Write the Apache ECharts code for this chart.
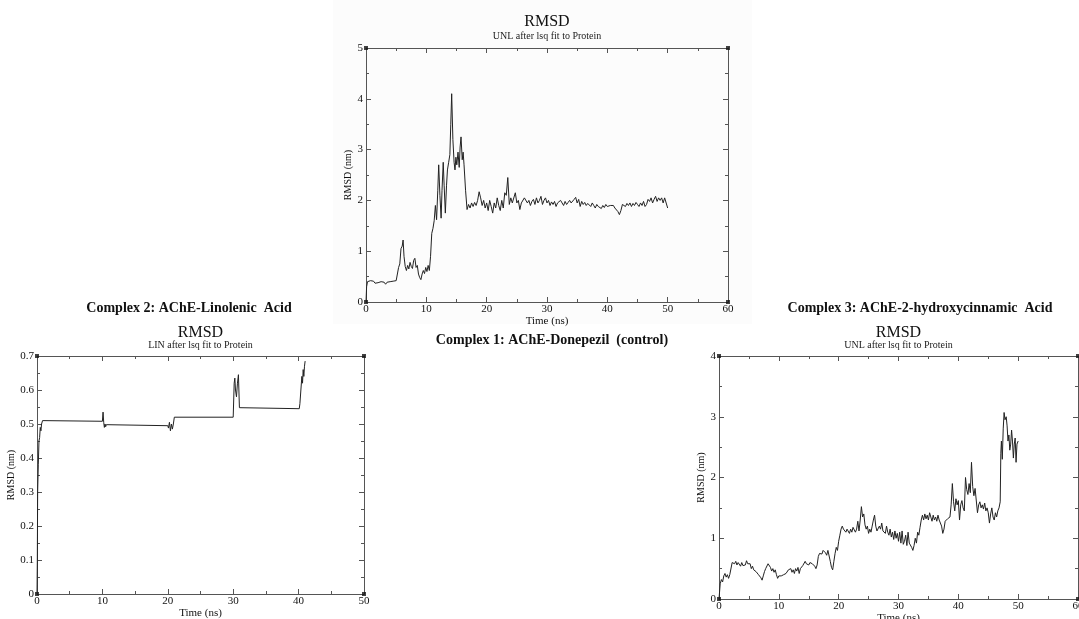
<!DOCTYPE html>
<html>
<head>
<meta charset="utf-8">
<script src="https://cdn.jsdelivr.net/npm/echarts@6/dist/echarts.min.js"></script>
<style>html,body{margin:0;padding:0;background:#fff;}#c{width:1079px;height:619px;}</style>
</head>
<body>
<div id="c"></div>
<script>
// ---- Data (time ns, RMSD nm) ----
const complex1 = [[0,0],[0.1,0.3],[0.25,0.4],[0.5,0.38],[0.75,0.42],[1.0,0.39],[1.25,0.41],[1.5,0.37],[1.75,0.4],[2.0,0.38],[2.25,0.36],[2.5,0.4],[2.75,0.37],[3.0,0.39],[3.25,0.35],[3.5,0.39],[3.75,0.37],[4.0,0.4],[4.25,0.38],[4.5,0.41],[4.75,0.39],[5.0,0.42],[5.25,0.4],[5.4,0.68],[5.6,0.75],[5.8,1.05],[6.0,1.1],[6.15,1.22],[6.3,0.9],[6.5,0.7],[6.7,0.62],[6.9,0.72],[7.1,0.65],[7.3,0.78],[7.5,0.7],[7.7,0.66],[7.9,0.82],[8.1,0.86],[8.3,0.68],[8.5,0.72],[8.7,0.55],[8.9,0.48],[9.1,0.44],[9.3,0.55],[9.5,0.62],[9.7,0.56],[9.9,0.68],[10.1,0.6],[10.3,0.72],[10.5,0.62],[10.7,0.9],[10.9,1.35],[11.1,1.45],[11.3,1.6],[11.5,1.9],[11.7,1.62],[11.9,2.2],[12.05,2.7],[12.25,2.1],[12.45,1.65],[12.6,2.2],[12.8,2.75],[12.95,2.3],[13.15,1.75],[13.35,2.3],[13.5,2.6],[13.7,2.75],[13.9,2.9],[14.05,3.5],[14.2,4.1],[14.4,3.2],[14.6,2.75],[14.75,2.6],[14.9,2.85],[15.05,2.7],[15.25,2.95],[15.45,2.65],[15.6,3.05],[15.75,3.25],[15.95,2.8],[16.1,2.95],[16.25,2.7],[16.5,2.2],[16.75,1.82],[17.0,1.92],[17.25,1.85],[17.5,1.95],[17.75,1.88],[18.0,1.96],[18.25,1.9],[18.5,2.0],[18.75,2.17],[19.0,2.05],[19.25,1.9],[19.5,2.0],[19.75,1.85],[20.0,1.95],[20.25,1.8],[20.5,2.0],[20.75,1.88],[21.0,1.75],[21.25,1.95],[21.5,1.85],[21.75,2.05],[22.0,1.9],[22.25,1.8],[22.5,2.0],[22.75,1.85],[23.0,2.15],[23.25,2.1],[23.5,2.45],[23.75,1.92],[24.0,2.05],[24.25,1.95],[24.5,1.98],[24.75,2.15],[25.0,1.95],[25.25,2.0],[25.5,1.82],[25.75,1.95],[26.0,1.92],[26.25,2.05],[26.5,2.02],[26.75,1.95],[27.0,2.0],[27.25,1.9],[27.5,1.98],[27.75,2.02],[28.0,1.92],[28.25,2.05],[28.5,1.95],[28.75,2.0],[29.0,2.08],[29.25,1.92],[29.5,2.0],[29.75,2.05],[30.0,1.95],[30.25,2.0],[30.5,1.9],[30.75,1.97],[31.0,1.92],[31.25,1.98],[31.5,1.88],[31.75,1.95],[32.0,1.92],[32.25,2.0],[32.5,1.95],[32.75,1.9],[33.0,1.98],[33.25,1.92],[33.5,1.96],[33.75,2.0],[34.0,1.95],[34.25,1.98],[34.5,2.02],[34.75,2.06],[35.0,1.95],[35.25,2.02],[35.5,1.88],[35.75,1.98],[36.0,1.92],[36.25,1.96],[36.5,1.9],[36.75,1.94],[37.0,1.92],[37.25,1.88],[37.5,1.95],[37.75,1.9],[38.0,1.85],[38.25,1.92],[38.5,1.88],[38.75,1.9],[39.0,1.84],[39.25,1.9],[39.5,1.86],[39.75,1.92],[40.0,1.88],[40.25,1.85],[40.5,1.9],[40.75,1.87],[41.0,1.9],[41.25,1.85],[41.5,1.82],[41.75,1.78],[42.0,1.72],[42.25,1.8],[42.5,1.92],[42.75,1.9],[43.0,1.88],[43.25,1.94],[43.5,1.9],[43.75,1.95],[44.0,1.88],[44.25,1.94],[44.5,1.9],[44.75,1.96],[45.0,1.92],[45.25,1.88],[45.5,1.95],[45.75,1.9],[46.0,1.98],[46.25,1.88],[46.5,1.92],[46.75,2.02],[47.0,1.98],[47.25,2.05],[47.5,1.95],[47.75,2.02],[48.0,2.08],[48.25,1.98],[48.5,2.05],[48.75,2.0],[49.0,2.05],[49.25,1.95],[49.5,2.05],[49.75,2.08],[50.0,1.85]];

const complex2 = [[0,0],[0.05,0.1],[0.1,0.3],[0.2,0.38],[0.3,0.45],[0.4,0.46],[0.5,0.49],[0.6,0.48],[0.7,0.5],[0.85,0.51],[10.0,0.508],[10.1,0.535],[10.2,0.505],[10.3,0.49],[10.4,0.5],[10.5,0.492],[10.6,0.498],[10.7,0.495],[20.0,0.495],[20.1,0.488],[20.25,0.505],[20.4,0.48],[20.55,0.5],[20.7,0.485],[20.85,0.5],[21.0,0.52],[30.0,0.52],[30.15,0.62],[30.25,0.635],[30.35,0.6],[30.5,0.58],[30.65,0.62],[30.8,0.645],[30.95,0.548],[31.0,0.545],[40.1,0.545],[40.2,0.56],[40.35,0.6],[40.5,0.64],[40.6,0.62],[40.7,0.66],[40.8,0.64],[40.9,0.67],[41.0,0.685]];

const complex3 = [[0,0],[0.2,0.25],[0.4,0.32],[0.6,0.28],[0.8,0.38],[1.0,0.42],[1.2,0.36],[1.4,0.4],[1.6,0.34],[1.8,0.4],[2.0,0.38],[2.2,0.6],[2.4,0.63],[2.6,0.58],[2.8,0.62],[3.0,0.56],[3.2,0.6],[3.4,0.57],[3.6,0.54],[3.8,0.6],[4.0,0.55],[4.2,0.58],[4.4,0.56],[4.6,0.63],[4.8,0.58],[5.0,0.55],[5.2,0.58],[5.4,0.5],[5.6,0.54],[5.8,0.48],[6.0,0.5],[6.2,0.45],[6.4,0.48],[6.6,0.4],[6.8,0.38],[7.0,0.35],[7.2,0.31],[7.4,0.38],[7.6,0.45],[7.8,0.5],[8.0,0.52],[8.2,0.58],[8.4,0.6],[8.6,0.52],[8.8,0.46],[9.0,0.5],[9.2,0.44],[9.4,0.48],[9.6,0.4],[9.8,0.34],[10.0,0.38],[10.2,0.35],[10.4,0.38],[10.6,0.36],[10.8,0.4],[11.0,0.38],[11.2,0.42],[11.4,0.4],[11.6,0.48],[11.8,0.45],[12.0,0.5],[12.2,0.44],[12.4,0.48],[12.6,0.42],[12.8,0.5],[13.0,0.46],[13.2,0.52],[13.4,0.42],[13.6,0.5],[13.8,0.48],[14.0,0.55],[14.2,0.58],[14.4,0.62],[14.6,0.58],[14.8,0.6],[15.0,0.56],[15.2,0.6],[15.4,0.62],[15.6,0.58],[15.8,0.56],[16.0,0.54],[16.2,0.5],[16.4,0.56],[16.6,0.7],[16.8,0.75],[17.0,0.78],[17.2,0.74],[17.4,0.8],[17.6,0.82],[17.8,0.76],[18.0,0.72],[18.2,0.8],[18.4,0.78],[18.6,0.62],[18.8,0.52],[19.0,0.48],[19.2,0.62],[19.4,0.75],[19.6,0.85],[19.8,0.8],[20.0,0.95],[20.2,1.05],[20.4,1.15],[20.6,1.2],[20.8,1.15],[21.0,1.18],[21.2,1.1],[21.4,1.15],[21.6,1.12],[21.8,1.08],[22.0,1.15],[22.2,1.1],[22.4,1.18],[22.6,1.2],[22.8,1.1],[23.0,1.15],[23.2,1.28],[23.4,1.12],[23.6,1.3],[23.8,1.52],[24.0,1.35],[24.2,1.4],[24.4,1.22],[24.6,1.15],[24.8,1.2],[25.0,1.08],[25.2,1.15],[25.4,1.1],[25.6,1.2],[25.8,1.3],[26.0,1.38],[26.2,1.2],[26.4,1.12],[26.6,1.15],[26.8,1.2],[27.0,1.15],[27.2,1.25],[27.4,1.12],[27.6,1.15],[27.8,1.08],[28.0,1.2],[28.2,1.1],[28.4,1.05],[28.6,1.15],[28.8,1.02],[29.0,1.1],[29.2,0.98],[29.4,1.12],[29.6,1.0],[29.8,1.08],[30.0,0.95],[30.2,1.1],[30.4,0.92],[30.6,1.12],[30.8,0.9],[31.0,0.95],[31.2,1.05],[31.4,0.88],[31.6,1.1],[31.8,0.92],[32.0,0.95],[32.2,0.85],[32.4,0.8],[32.6,0.88],[32.8,1.0],[33.0,0.92],[33.2,1.1],[33.4,1.05],[33.6,1.18],[33.8,1.3],[34.0,1.38],[34.2,1.3],[34.4,1.4],[34.6,1.32],[34.8,1.38],[35.0,1.3],[35.2,1.42],[35.4,1.35],[35.6,1.28],[35.8,1.38],[36.0,1.3],[36.2,1.35],[36.4,1.28],[36.6,1.38],[36.8,1.3],[37.0,1.32],[37.2,1.2],[37.4,1.08],[37.6,1.15],[37.8,1.28],[38.0,1.25],[38.2,1.32],[38.4,1.3],[38.6,1.35],[38.8,1.55],[39.0,1.9],[39.2,1.6],[39.4,1.45],[39.6,1.65],[39.8,1.55],[40.0,1.62],[40.2,1.3],[40.4,1.55],[40.6,1.62],[40.8,1.5],[41.0,1.45],[41.2,2.0],[41.4,1.8],[41.6,1.72],[41.8,1.9],[42.0,1.75],[42.2,2.25],[42.4,1.85],[42.6,1.7],[42.8,1.82],[43.0,1.85],[43.2,1.42],[43.4,1.55],[43.6,1.6],[43.8,1.5],[44.0,1.55],[44.2,1.48],[44.4,1.58],[44.6,1.45],[44.8,1.5],[45.0,1.42],[45.2,1.25],[45.4,1.4],[45.6,1.5],[45.8,1.35],[46.0,1.3],[46.2,1.42],[46.4,1.35],[46.6,1.45],[46.8,1.5],[47.0,1.6],[47.1,2.4],[47.2,2.6],[47.35,2.3],[47.5,2.8],[47.65,3.07],[47.8,2.95],[48.0,3.0],[48.15,2.85],[48.3,2.6],[48.45,2.7],[48.6,2.45],[48.75,2.55],[48.9,2.78],[49.05,2.6],[49.2,2.32],[49.35,2.55],[49.5,2.65],[49.65,2.25],[49.8,2.55],[50.0,2.6]];

// ---- Axis ranges / ticks ----
const xTicks1 = [0, 10, 20, 30, 40, 50, 60];
const yTicks1 = [0, 1, 2, 3, 4, 5];
const xTicks2 = [0, 10, 20, 30, 40, 50];
const yTicks2 = [0, 0.1, 0.2, 0.3, 0.4, 0.5, 0.6, 0.7];
const xTicks3 = [0, 10, 20, 30, 40, 50, 60];
const yTicks3 = [0, 1, 2, 3, 4];

// ---- Texts ----
const mainTitle = 'RMSD';
const subtitles = ['UNL after lsq fit to Protein', 'LIN after lsq fit to Protein', 'UNL after lsq fit to Protein'];
const complexLabels = ['Complex 1: AChE-Donepezil  (control)', 'Complex 2: AChE-Linolenic  Acid', 'Complex 3: AChE-2-hydroxycinnamic  Acid'];
const xName = 'Time (ns)';
const yName = 'RMSD (nm)';

const SERIF = 'Liberation Serif, Times New Roman, serif';
const grids = [
  {left: 366, top: 48, width: 362, height: 254},
  {left: 37, top: 356, width: 327, height: 238},
  {left: 719, top: 356, width: 359, height: 243}
];
const axesDef = [
  {x: xTicks1, y: yTicks1, xGap: 9, yGap: 12, tOff: 34, sOff: 17},
  {x: xTicks2, y: yTicks2, xGap: 12, yGap: 17, tOff: 31, sOff: 16},
  {x: xTicks3, y: yTicks3, xGap: 14, yGap: 11, tOff: 31, sOff: 16}
];
const datasets = [complex1, complex2, complex3];

const lineCol = '#555';
function axis(kind, gi, ticks, pos, labels, gap) {
  const a = {
    type: 'value', gridIndex: gi, position: pos,
    min: ticks[0], max: ticks[ticks.length - 1], interval: ticks[1] - ticks[0],
    axisLine: {show: true, onZero: false, lineStyle: {color: lineCol, width: 1}},
    axisTick: {show: true, inside: true, length: 5, lineStyle: {color: lineCol}},
    minorTick: {show: true, splitNumber: 2, length: 3, lineStyle: {color: lineCol}},
    splitLine: {show: false},
    axisLabel: {show: labels, color: '#111', fontFamily: SERIF, fontSize: 11, margin: kind === 'x' ? 2 : 3, showMinLabel: true, showMaxLabel: true}
  };
  if (labels) {
    a.name = kind === 'x' ? xName : yName;
    a.nameLocation = 'middle';
    a.nameGap = gap;
    a.nameTextStyle = {fontFamily: SERIF, fontSize: kind === 'x' ? 11 : 10, color: '#111'};
  }
  return a;
}

const xAxis = [], yAxis = [], series = [], title = [];
grids.forEach((g, i) => {
  const d = axesDef[i];
  xAxis.push(axis('x', i, d.x, 'bottom', true, d.xGap));
  xAxis.push(axis('x', i, d.x, 'top', false));
  yAxis.push(axis('y', i, d.y, 'left', true, d.yGap));
  yAxis.push(axis('y', i, d.y, 'right', false));
  series.push({
    type: 'line', xAxisIndex: 2 * i, yAxisIndex: 2 * i, data: datasets[i],
    showSymbol: false, symbol: 'none', lineStyle: {color: '#222', width: 1}, animation: false, silent: true
  });
  const xmin = d.x[0], xmax = d.x[d.x.length - 1], ymin = d.y[0], ymax = d.y[d.y.length - 1];
  series.push({
    type: 'scatter', xAxisIndex: 2 * i, yAxisIndex: 2 * i, clip: false, symbol: 'rect', symbolSize: 4,
    itemStyle: {color: '#111'}, silent: true, animation: false,
    data: [[xmin, ymin], [xmax, ymin], [xmin, ymax], [xmax, ymax]]
  });
  const cx = g.left + g.width / 2;
  title.push({text: mainTitle, left: cx, top: g.top - d.tOff, textAlign: 'center', padding: 0,
    textStyle: {fontFamily: SERIF, fontSize: 16, fontWeight: 'normal', color: '#111'}});
  title.push({text: subtitles[i], left: cx, top: g.top - d.sOff, textAlign: 'center', padding: 0,
    textStyle: {fontFamily: SERIF, fontSize: 10, fontWeight: 'normal', color: '#222'}});
});
title.push({text: complexLabels[0], left: 552, top: 333, textAlign: 'center', padding: 0,
  textStyle: {fontFamily: SERIF, fontSize: 14, fontWeight: 'bold', color: '#111'}});
title.push({text: complexLabels[1], left: 189, top: 301, textAlign: 'center', padding: 0,
  textStyle: {fontFamily: SERIF, fontSize: 14, fontWeight: 'bold', color: '#111'}});
title.push({text: complexLabels[2], left: 920, top: 301, textAlign: 'center', padding: 0,
  textStyle: {fontFamily: SERIF, fontSize: 14, fontWeight: 'bold', color: '#111'}});

const chart = echarts.init(document.getElementById('c'), null, {renderer: 'canvas'});
chart.setOption({
  backgroundColor: '#fff',
  animation: false,
  title: title,
  graphic: [{type: 'rect', z: -10, silent: true, shape: {x: 333, y: 0, width: 419, height: 324},
    style: {fill: '#fcfcfc'}}],
  grid: grids.map(g => Object.assign({containLabel: false, outerBoundsMode: 'none'}, g)),
  xAxis: xAxis,
  yAxis: yAxis,
  series: series
});
</script>
</body>
</html>
